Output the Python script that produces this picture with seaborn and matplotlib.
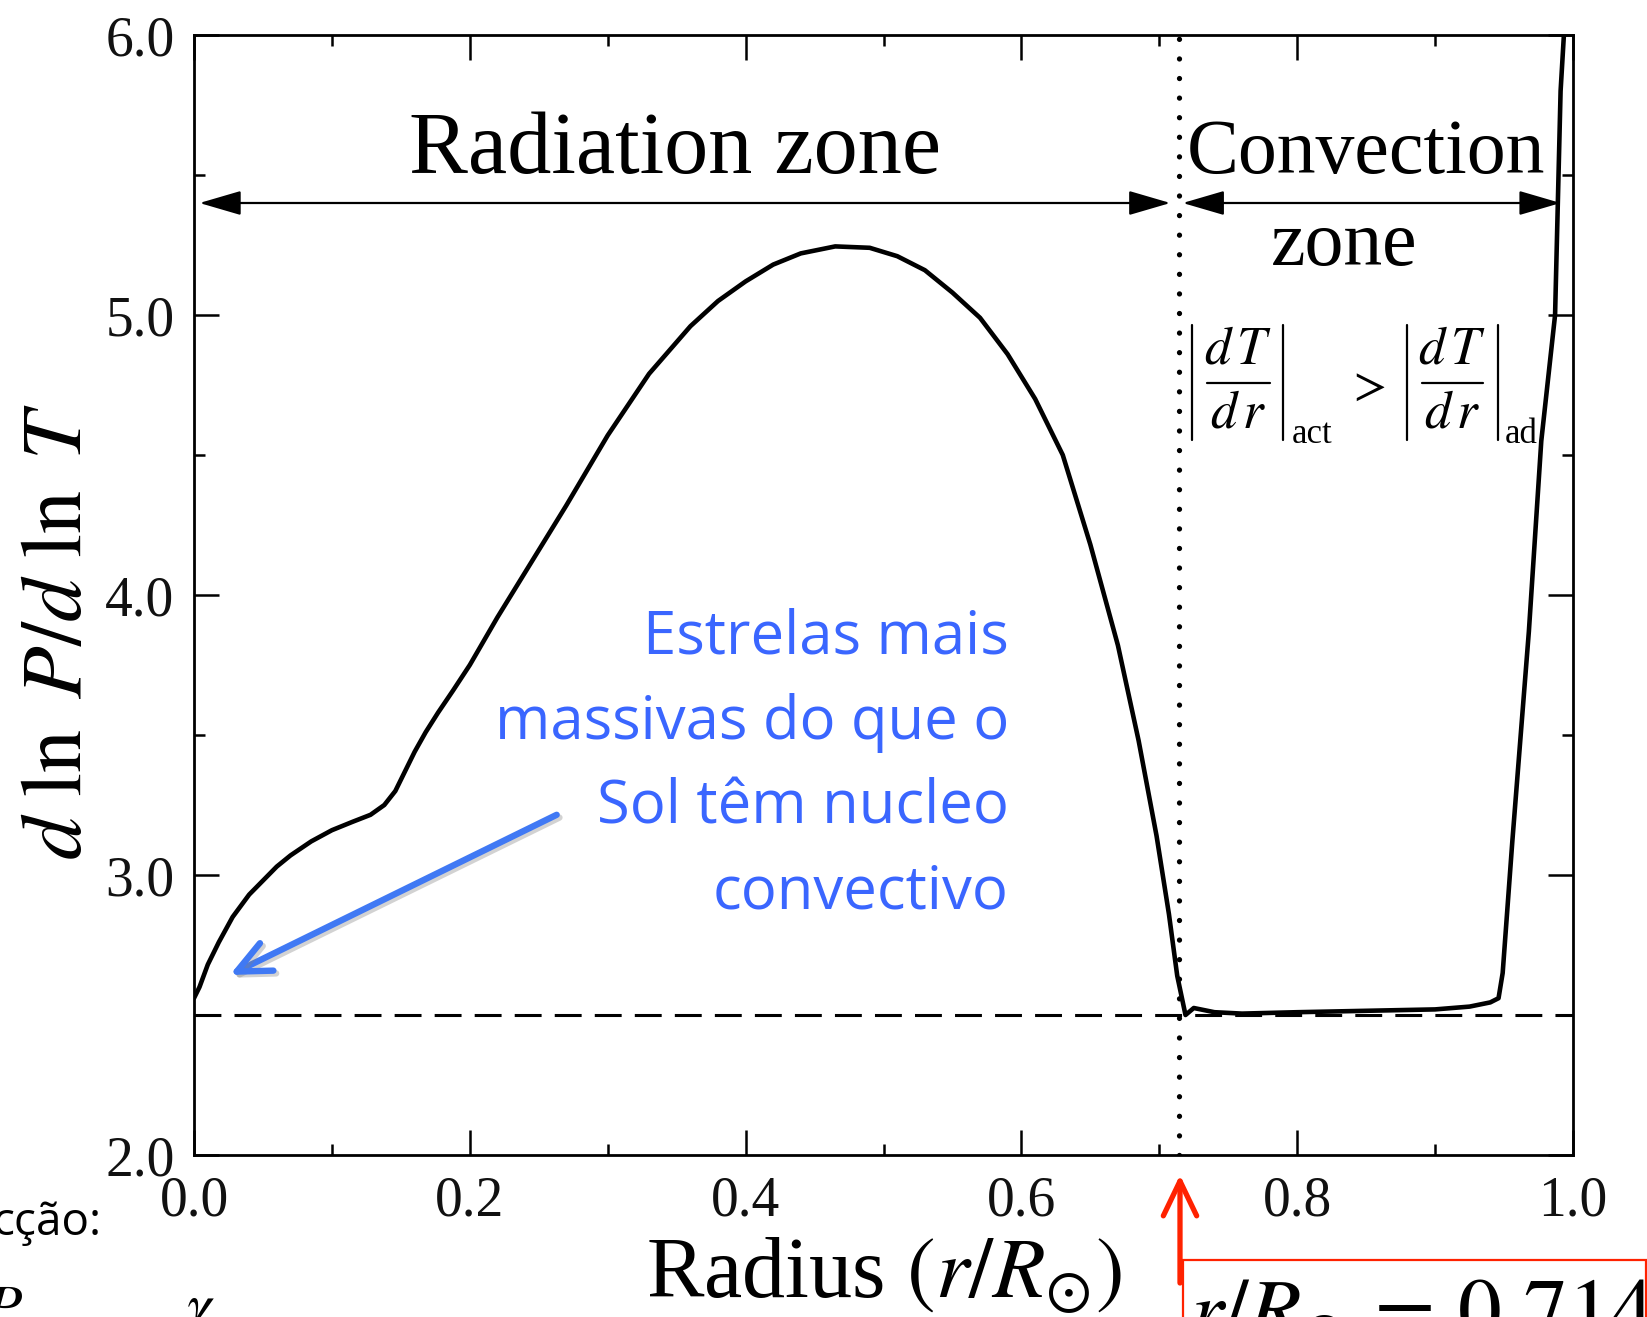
import numpy as np
import pandas as pd
import matplotlib
matplotlib.use("Agg")
import matplotlib.pyplot as plt
import matplotlib.patheffects as pe
from matplotlib.patches import Rectangle
from matplotlib.lines import Line2D
from matplotlib.ticker import MultipleLocator
import seaborn as sns

# Solar model: d ln P / d ln T against fractional radius
radius = [0.000, 0.004, 0.010, 0.018, 0.028, 0.040, 0.050, 0.060, 0.070, 0.085,
          0.100, 0.115, 0.128, 0.138, 0.146, 0.153, 0.160, 0.168, 0.177, 0.188,
          0.200, 0.220, 0.240, 0.270, 0.300, 0.330, 0.360, 0.380, 0.400, 0.420,
          0.440, 0.465, 0.490, 0.510, 0.530, 0.550, 0.570, 0.590, 0.610, 0.630,
          0.650, 0.670, 0.685, 0.698, 0.707, 0.713, 0.719, 0.725, 0.740, 0.760,
          0.800, 0.850, 0.900, 0.925, 0.940, 0.946, 0.949, 0.956, 0.968, 0.977,
          0.987, 0.991, 0.994]
gradient = [2.56, 2.60, 2.68, 2.76, 2.85, 2.93, 2.98, 3.03, 3.07, 3.12,
            3.16, 3.19, 3.215, 3.25, 3.30, 3.37, 3.44, 3.51, 3.58, 3.66,
            3.75, 3.92, 4.08, 4.32, 4.57, 4.79, 4.96, 5.05, 5.12, 5.18,
            5.22, 5.245, 5.24, 5.21, 5.16, 5.08, 4.99, 4.86, 4.70, 4.50,
            4.18, 3.82, 3.48, 3.14, 2.86, 2.64, 2.50, 2.525, 2.51, 2.505,
            2.51, 2.515, 2.52, 2.53, 2.545, 2.56, 2.65, 3.12, 3.87, 4.55,
            5.00, 5.80, 6.05]

adiabatic_value = 2.5      # 1/(1 - 1/gamma) for gamma = 5/3
base_convection = 0.714    # bottom of the convection zone
zone_arrow_y = 5.4

x_ticks = [0.0, 0.2, 0.4, 0.6, 0.8, 1.0]
x_tick_labels = ["0.0", "0.2", "0.4", "0.6", "0.8", "1.0"]
y_ticks = [2.0, 3.0, 4.0, 5.0, 6.0]
y_tick_labels = ["2.0", "3.0", "4.0", "5.0", "6.0"]

note_lines = ["Estrelas mais", "massivas do que o", "Sol têm nucleo", "convectivo"]

sns.set_theme(style="ticks")
plt.rcParams["font.family"] = ["Liberation Serif", "DejaVu Serif"]
plt.rcParams["mathtext.fontset"] = "stix"
for key in ["text.color", "axes.labelcolor", "xtick.color", "ytick.color",
            "axes.edgecolor"]:
    plt.rcParams[key] = "black"

W, H = 1647, 1317


def fx(px):
    return px / W


def fy(py):
    return 1 - py / H


fig = plt.figure(figsize=(W / 100, H / 100), dpi=100)
fig.patch.set_facecolor("white")
ax = fig.add_axes([194 / W, 1 - 1155 / H, 1379 / W, 1120 / H])
ax.set_facecolor("white")

df = pd.DataFrame({"r": radius, "g": gradient})
sns.lineplot(data=df, x="r", y="g", ax=ax, color="black", lw=3.3,
             estimator=None, sort=False)
ax.lines[-1].set_solid_joinstyle("round")

ax.axhline(adiabatic_value, color="black", lw=2.2, linestyle=(0, (8.8, 4.3)),
           zorder=1)
ax.axvline(base_convection, color="black", lw=3.8, linestyle=(0, (0.01, 3.7)),
           dash_capstyle="round", zorder=1)

ax.set_xlim(0, 1)
ax.set_ylim(2, 6)
ax.set_xticks(x_ticks)
ax.set_xticklabels(x_tick_labels)
ax.set_yticks(y_ticks)
ax.set_yticklabels(y_tick_labels)
ax.xaxis.set_minor_locator(MultipleLocator(0.1))
ax.yaxis.set_minor_locator(MultipleLocator(0.5))
ax.tick_params(which="both", direction="in", top=True, right=True,
               width=1.8, color="black")
ax.tick_params(which="major", length=18)
ax.tick_params(which="minor", length=8)
ax.tick_params(axis="x", labelsize=40, pad=15, labelcolor="#111111")
ax.tick_params(axis="y", labelsize=40, pad=14, labelcolor="#111111")
for s in ax.spines.values():
    s.set_linewidth(2.0)
    s.set_color("black")
    s.set_visible(True)

ax.set_xlabel(r"Radius $(r/R_{\odot})$", fontsize=62, labelpad=6)
ax.set_ylabel(r"$d\ \ln\ P/d\ \ln\ T$", fontsize=62)
ax.yaxis.set_label_coords(-0.068, 0.467)

# Zone labels and extent arrows
ax.text(0.349, 5.507, "Radiation zone", fontsize=63.5, ha="center", va="baseline")
ax.text(0.850, 5.507, "Convection", fontsize=56, ha="center", va="baseline")
ax.text(0.834, 5.18, "zone", fontsize=56, ha="center", va="baseline")
arrow_kw = dict(arrowstyle="<|-|>,head_length=1.3,head_width=0.38",
                mutation_scale=20, lw=1.6, color="black", shrinkA=0, shrinkB=0)
ax.annotate("", xy=(0.004, zone_arrow_y), xytext=(0.708, zone_arrow_y),
            arrowprops=arrow_kw)
ax.annotate("", xy=(0.717, zone_arrow_y), xytext=(0.991, zone_arrow_y),
            arrowprops=arrow_kw)

# Convection criterion |dT/dr|_act > |dT/dr|_ad, set piece by piece
for bar_x in [1192, 1283, 1407, 1498]:
    fig.add_artist(Line2D([fx(bar_x)] * 2, [fy(325), fy(440)],
                          transform=fig.transFigure, color="black", lw=1.6))
for x0, x1 in [(1207, 1270), (1422, 1483)]:
    fig.add_artist(Line2D([fx(x0), fx(x1)], [fy(383)] * 2,
                          transform=fig.transFigure, color="black", lw=1.6))
    xc = (x0 + x1) / 2
    fig.text(fx(xc), fy(363), r"$d\,T$", fontsize=38, ha="center", va="baseline")
    fig.text(fx(xc), fy(428), r"$d\,r$", fontsize=38, ha="center", va="baseline")
fig.text(fx(1292), fy(443), "act", fontsize=25, ha="left", va="baseline")
fig.text(fx(1505), fy(443), "ad", fontsize=25, ha="left", va="baseline")
fig.text(fx(1366), fy(388), r"$>$", fontsize=35, ha="center", va="center")

# Blue note with arrow towards the core
blue_text = "#3A66FF"
blue_arrow = "#4079F4"
for i, line in enumerate(note_lines):
    fig.text(fx(1009), fy(654 + 84.7 * i), line, family="Open Sans",
             fontsize=43, color=blue_text, ha="right", va="baseline")
ann = ax.annotate("", xy=(0.026, 2.643), xytext=(0.263, 3.215),
                  arrowprops=dict(arrowstyle="->,head_length=1.2,head_width=0.55",
                                  mutation_scale=20, lw=4.6, color=blue_arrow,
                                  shrinkA=0, shrinkB=0, capstyle="round",
                                  joinstyle="round"))
ann.arrow_patch.set_path_effects([
    pe.SimpleLineShadow(offset=(2, -2), shadow_color="gray", alpha=0.35),
    pe.Normal()])

# Red marker for the base of the convection zone
fig.patches.append(Rectangle((fx(1183), -0.1), (1645.5 - 1183) / W,
                             0.1 + (H - 1260) / H, transform=fig.transFigure,
                             fill=False, edgecolor="#FF2200", lw=1.6))
fig.text(fx(1189), fy(1340), r"$r/R_{\odot}\, =\, 0.714$", fontsize=63,
         ha="left", va="baseline")
ax.annotate("", xy=(1180, H - 1175), xytext=(1180, H - 1283),
            xycoords="figure pixels", textcoords="figure pixels",
            arrowprops=dict(arrowstyle="->,head_length=1.25,head_width=0.6",
                            mutation_scale=20, lw=3.8, color="#FF2200",
                            shrinkA=0, shrinkB=0, capstyle="round",
                            joinstyle="round"), annotation_clip=False)

# Fragments of the surrounding slide text
fig.text(fx(102), fy(1235), "cção:", family="Open Sans", fontsize=33,
         ha="right", va="baseline", color="black")
fig.text(fx(23), fy(1327), r"$P$", fontsize=44, ha="right", va="baseline")
fig.text(fx(186), fy(1324), r"$\gamma$", fontsize=44, ha="left", va="baseline")

fig.savefig("out.png", dpi=100, facecolor="white")
